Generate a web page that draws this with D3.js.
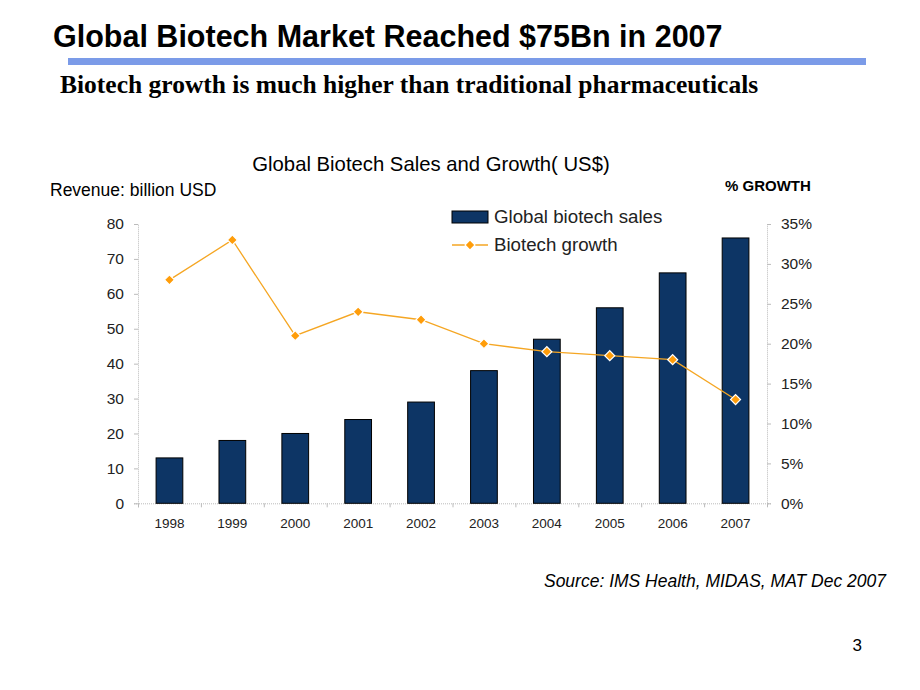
<!DOCTYPE html>
<html><head><meta charset="utf-8">
<script src="https://cdn.jsdelivr.net/npm/d3@7"></script>
<style>body{margin:0;background:#fff}svg{display:block}</style>
</head><body>
<script>
const years = ["1998","1999","2000","2001","2002","2003","2004","2005","2006","2007"];
const sales = [13,18,20,24,29,38,47,56,66,76];
const growth = [28,33,21,24,23,20,19,18.5,18,13];
const leftTicks = [0,10,20,30,40,50,60,70,80];
const rightTicks = [0,5,10,15,20,25,30,35];

const W=920,H=690;
const svg=d3.select("body").append("svg").attr("width",W).attr("height",H);
const F="Arial, 'Liberation Sans', sans-serif";

// header
svg.append("text").attr("x",53).attr("y",47).attr("font-family",F).attr("font-weight","bold")
  .attr("font-size",30.5).attr("fill","#000").text("Global Biotech Market Reached $75Bn in 2007");
svg.append("rect").attr("x",68).attr("y",58).attr("width",798).attr("height",7).attr("fill","#7b9be8");
svg.append("text").attr("x",60).attr("y",93).attr("font-family","'Times New Roman', 'Liberation Serif', serif")
  .attr("font-weight","bold").attr("font-size",25.5).attr("fill","#000")
  .text("Biotech growth is much higher than traditional pharmaceuticals");

// chart texts
svg.append("text").attr("x",431).attr("y",171).attr("text-anchor","middle").attr("font-family",F)
  .attr("font-size",20.3).attr("fill","#000").text("Global Biotech Sales and Growth( US$)");
svg.append("text").attr("x",50).attr("y",196).attr("font-family",F).attr("font-size",17.5)
  .attr("fill","#000").text("Revenue: billion USD");
svg.append("text").attr("x",725).attr("y",191).attr("font-family",F).attr("font-size",15)
  .attr("font-weight","bold").attr("fill","#000").text("% GROWTH");

const x0=138,x1=767,yTop=224,yBot=503.3;
const x=d3.scaleBand().domain(years).range([x0,x1]).paddingInner(0.575).paddingOuter(0.2875);
const yL=d3.scaleLinear().domain([0,80]).range([yBot,yTop]);
const yR=d3.scaleLinear().domain([0,35]).range([yBot,yTop]);

// axes
const axL=svg.append("g").attr("transform",`translate(${x0},0)`)
  .call(d3.axisLeft(yL).tickValues(leftTicks).tickSize(4).tickPadding(10).tickFormat(d3.format("d")));
const axR=svg.append("g").attr("transform",`translate(${x1},0)`)
  .call(d3.axisRight(yR).tickValues(rightTicks).tickSize(4).tickPadding(10).tickFormat(d=>d+"%"));
const xb=d3.scaleLinear().domain([0,10]).range([x0,x1]);
const axB=svg.append("g").attr("transform",`translate(0,${yBot})`)
  .call(d3.axisBottom(xb).ticks(10).tickSize(4).tickFormat(""));
[axL,axR,axB].forEach(a=>{
  a.select(".domain").attr("stroke","#bbb").attr("stroke-dasharray","1,1");
  a.selectAll(".tick line").attr("stroke","#bbb");
  a.selectAll("text").attr("font-family",F).attr("font-size",15.5).attr("fill","#222");
});
// x labels
svg.append("g").selectAll("text").data(years).join("text")
  .attr("x",d=>x(d)+x.bandwidth()/2).attr("y",528).attr("text-anchor","middle")
  .attr("font-family",F).attr("font-size",13.5).attr("fill","#222").text(d=>d);

// bars
svg.append("g").selectAll("rect").data(sales).join("rect")
  .attr("x",(d,i)=>x(years[i])).attr("width",x.bandwidth())
  .attr("y",d=>yL(d)).attr("height",d=>yBot-yL(d))
  .attr("fill","#0d3565").attr("stroke","#000").attr("stroke-width",1);

// line
const cx=(i)=>x(years[i])+x.bandwidth()/2;
svg.append("path").datum(growth)
  .attr("d",d3.line().x((d,i)=>cx(i)).y(d=>yR(d)))
  .attr("fill","none").attr("stroke","#f5a623").attr("stroke-width",1.3);
const diamond=d3.symbol().type(d3.symbolSquare).size(50);
svg.append("g").selectAll("path").data(growth).join("path")
  .attr("transform",(d,i)=>`translate(${cx(i)},${yR(d)}) rotate(45)`).attr("d",diamond)
  .attr("fill","#ff9d0a").attr("stroke","#fff").attr("stroke-width",1.2);

// legend
const lg=svg.append("g");
lg.append("rect").attr("x",452).attr("y",211).attr("width",36).attr("height",12)
  .attr("fill","#0d3565").attr("stroke","#000");
lg.append("text").attr("x",494).attr("y",223).attr("font-family",F).attr("font-size",18.7)
  .attr("fill","#222").text("Global biotech sales");
lg.append("line").attr("x1",452).attr("x2",488).attr("y1",245).attr("y2",245)
  .attr("stroke","#f5a623").attr("stroke-width",1.3);
lg.append("path").attr("transform","translate(470,245) rotate(45)").attr("d",diamond)
  .attr("fill","#ff9d0a").attr("stroke","#fff").attr("stroke-width",1.2);
lg.append("text").attr("x",494).attr("y",251).attr("font-family",F).attr("font-size",18.7)
  .attr("fill","#222").text("Biotech growth");

// footer
svg.append("text").attr("x",886).attr("y",587).attr("text-anchor","end").attr("font-family",F)
  .attr("font-style","italic").attr("font-size",17.5).attr("fill","#000")
  .text("Source: IMS Health, MIDAS, MAT Dec 2007");
svg.append("text").attr("x",862).attr("y",651).attr("text-anchor","end").attr("font-family",F)
  .attr("font-size",17).attr("fill","#000").text("3");
</script>
</body></html>
